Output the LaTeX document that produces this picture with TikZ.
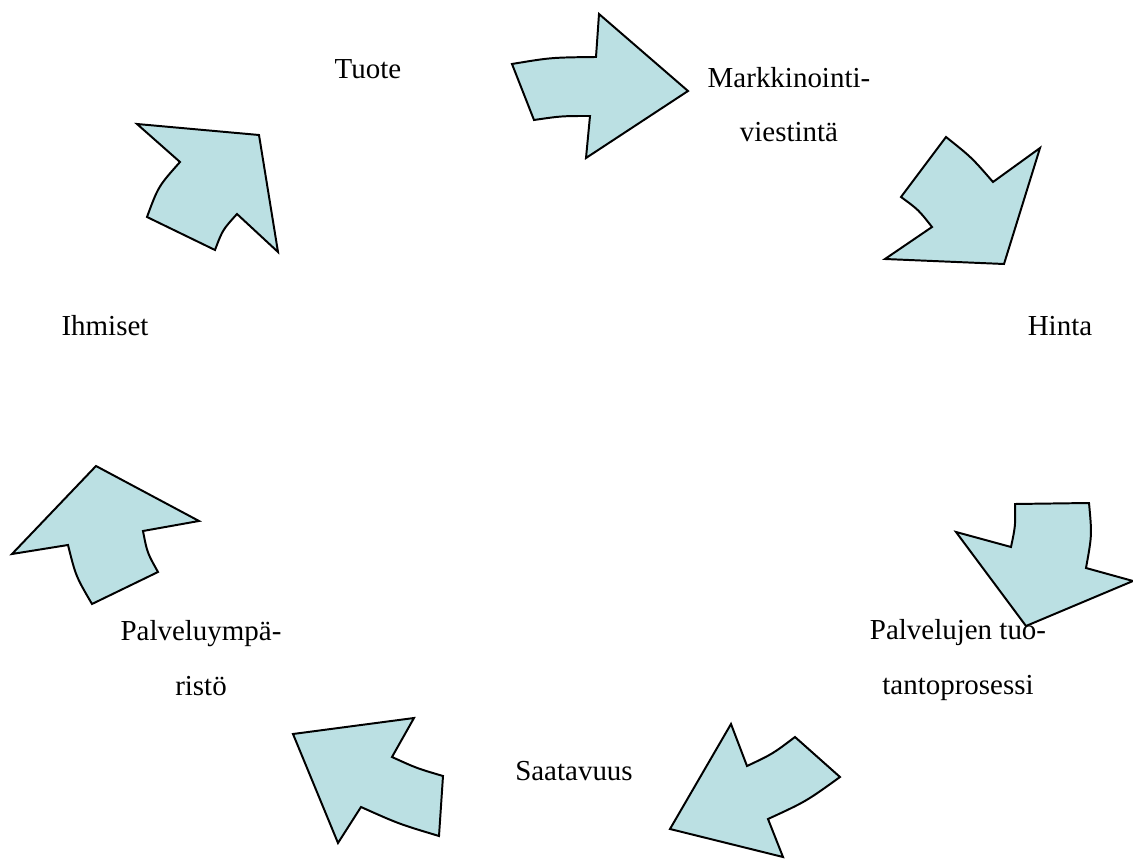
\documentclass[tikz,border=0pt]{standalone}
\usepackage{fontspec}
\setmainfont{Liberation Serif}
\usepackage{tikz}
\usetikzlibrary{positioning}
\definecolor{arrowfill}{RGB}{187,224,227}
\definecolor{arrowline}{RGB}{0,0,0}
\tikzset{
  cyclearrow/.style={draw=arrowline, fill=arrowfill, line width=1.4pt,
    line join=miter},
  label/.style={font=\fontsize{20.6}{39}\selectfont, align=center,
    anchor=base, inner sep=0pt}
}

\begin{document}
\begin{tikzpicture}[x=0.025cm, y=-0.025cm]
  \useasboundingbox (0,0) rectangle (1133,859);

  % Labels (base = last line)
  \node[label] (tuote) at (368,79) {Tuote};
  \node[label] (viestinta) at (789,142) {Markkinointi-\\viestintä};
  \node[label] (hinta) at (1060,336) {Hinta};
  \node[label] (prosessi) at (958,694) {Palvelujen tuo-\\tantoprosessi};
  \node[label] (saatavuus) at (574,780) {Saatavuus};
  \node[label] (ymparisto) at (201,695) {Palveluympä-\\ristö};
  \node[label] (ihmiset) at (105,336) {Ihmiset};

  % Tuote -> Markkinointiviestinta
  \draw[cyclearrow] (512,64) .. controls (551,57.5) .. (596,57) -- (599,14)
    -- (688,91) -- (586,158) -- (590,116) .. controls (561.5,116) .. (534,120)
    -- cycle;

  % Markkinointiviestinta -> Hinta
  \draw[cyclearrow] (946,137) .. controls (971.5,157.3) .. (993,182)
    -- (1040,148) -- (1004,264) -- (885,259) -- (932,227)
    .. controls (918.5,209.8) .. (901,197) -- cycle;

  % Hinta -> Palvelujen tuotantoprosessi
  \draw[cyclearrow] (1015,504) -- (1089,503) .. controls (1092,535) .. (1086,568)
    -- (1133,581) -- (1026,626) -- (956,532) -- (1011,547)
    .. controls (1015.5,525.5) .. cycle;

  % Palvelujen tuotantoprosessi -> Saatavuus
  \draw[cyclearrow] (731,724) -- (747,766) .. controls (772.5,754) .. (795,737)
    -- (840,777) .. controls (806,801.5) .. (768,819) -- (783,857)
    -- (670,829) -- cycle;

  % Saatavuus -> Palveluymparisto
  \draw[cyclearrow] (293,734) -- (414,718) -- (392,757)
    .. controls (416.8,768.3) .. (443,776) -- (439,836)
    .. controls (399,824) .. (361,807) -- (338,843) -- cycle;

  % Palveluymparisto -> Ihmiset
  \draw[cyclearrow] (96,466) -- (199,521) -- (143,531)
    .. controls (147.2,552.7) .. (158,572) -- (92,604)
    .. controls (75.8,576.2) .. (68,545) -- (12,554) -- cycle;

  % Ihmiset -> Tuote
  \draw[cyclearrow] (137,124) -- (259,135) -- (278,252) -- (237,214)
    .. controls (222.6,229.9) .. (215,250) -- (147,217)
    .. controls (158.3,186.4) .. (180,162) -- cycle;
\end{tikzpicture}
\end{document}
